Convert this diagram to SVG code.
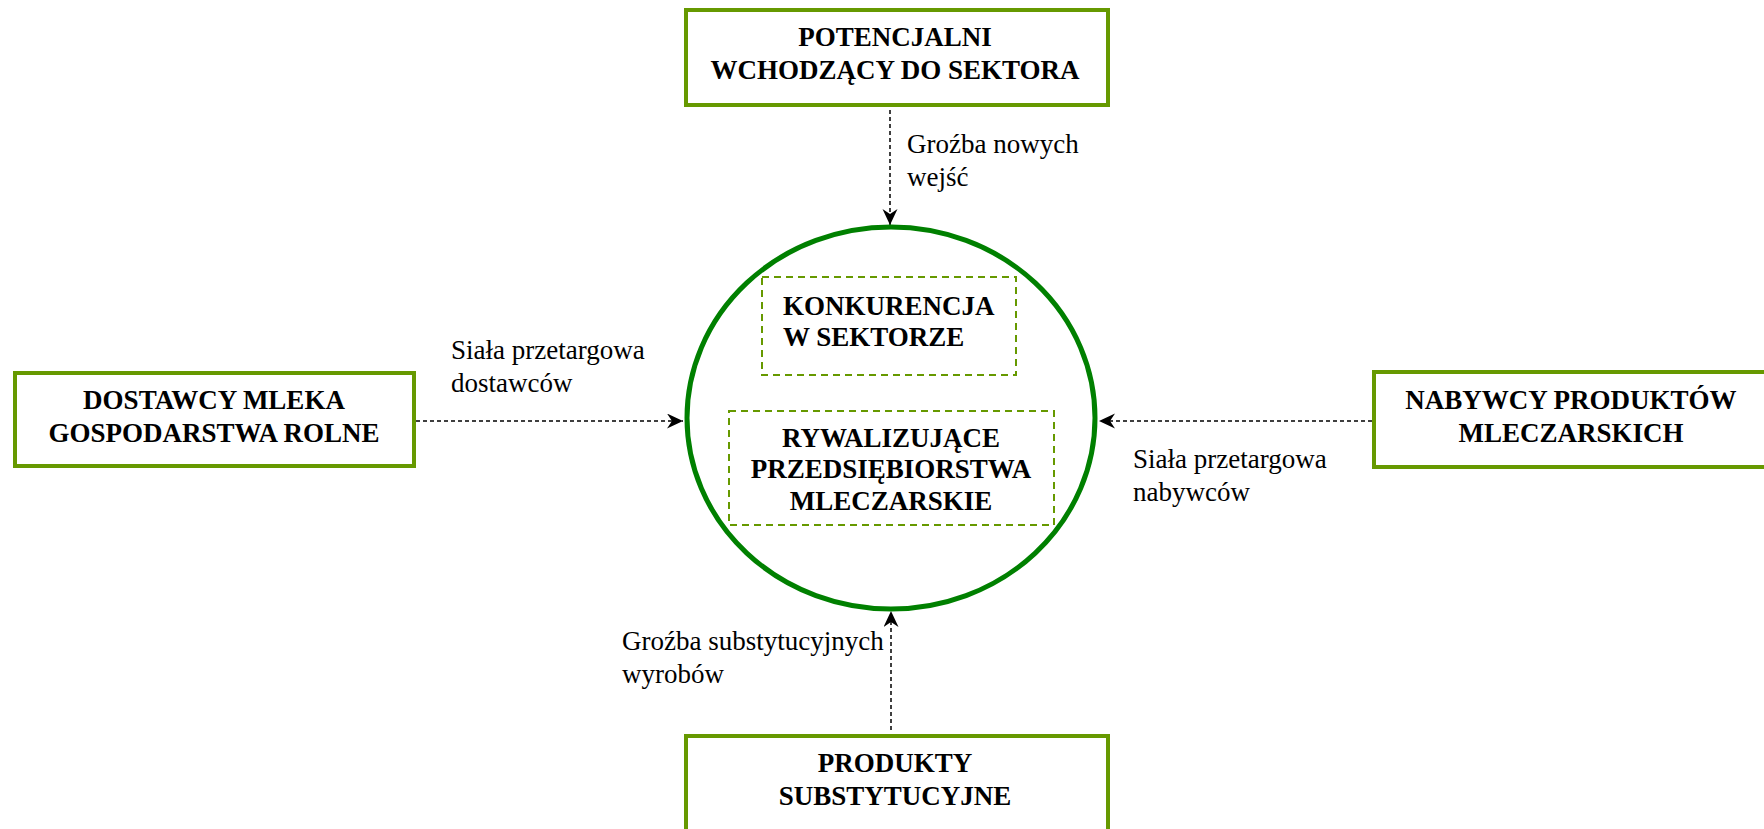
<svg xmlns="http://www.w3.org/2000/svg" width="1764" height="829" viewBox="0 0 1764 829">
<style>
.box{fill:#fff;stroke:#669900;stroke-width:4}
.inner{fill:none;stroke:#669900;stroke-width:2;stroke-dasharray:7 5}
.circle{fill:#fff;stroke:#008000;stroke-width:5}
.conn{stroke:#000;stroke-width:1.5;stroke-dasharray:4 3;fill:none}
.bt{font-family:"Liberation Serif","DejaVu Serif",serif;font-weight:bold;font-size:27px;fill:#000;text-anchor:middle}
.lt{font-family:"Liberation Serif","DejaVu Serif",serif;font-size:27px;fill:#000}
</style>
<defs>
<marker id="arr" markerUnits="userSpaceOnUse" markerWidth="18" markerHeight="16" refX="16" refY="7.5" orient="auto">
<path d="M0,0 L16,7.5 L0,15 L5,7.5 Z" fill="#000"/>
</marker>
</defs>
<rect width="1764" height="829" fill="#fff"/>
<g id="connectors">
<line class="conn" x1="890" y1="110" x2="890" y2="225" marker-end="url(#arr)"/>
<line class="conn" x1="416" y1="421" x2="683" y2="421" marker-end="url(#arr)"/>
<line class="conn" x1="1372" y1="421" x2="1099" y2="421" marker-end="url(#arr)"/>
<line class="conn" x1="891" y1="730" x2="891" y2="611" marker-end="url(#arr)"/>
<text class="lt" x="907" y="153">Groźba nowych</text>
<text class="lt" x="907" y="186">wejść</text>
<text class="lt" x="451" y="359">Siała przetargowa</text>
<text class="lt" x="451" y="392">dostawców</text>
<text class="lt" x="1133" y="468">Siała przetargowa</text>
<text class="lt" x="1133" y="501">nabywców</text>
<text class="lt" x="622" y="650">Groźba substytucyjnych</text>
<text class="lt" x="622" y="683">wyrobów</text>
</g>
<g id="node-center">
<ellipse class="circle" cx="891" cy="418" rx="204" ry="191"/>
</g>
<g id="node-konkurencja">
<rect class="inner" x="762" y="277" width="254" height="98"/>
<text class="bt" x="783" y="315" style="text-anchor:start">KONKURENCJA</text>
<text class="bt" x="783" y="346" style="text-anchor:start">W SEKTORZE</text>
</g>
<g id="node-rywalizujace">
<rect class="inner" x="729" y="411" width="325" height="114"/>
<text class="bt" x="891" y="447">RYWALIZUJĄCE</text>
<text class="bt" x="891" y="478">PRZEDSIĘBIORSTWA</text>
<text class="bt" x="891" y="510">MLECZARSKIE</text>
</g>
<g id="node-potencjalni">
<rect class="box" x="686" y="10" width="422" height="95"/>
<text class="bt" x="895" y="46">POTENCJALNI</text>
<text class="bt" x="895" y="79">WCHODZĄCY DO SEKTORA</text>
</g>
<g id="node-dostawcy">
<rect class="box" x="15" y="373" width="399" height="93"/>
<text class="bt" x="214" y="409">DOSTAWCY MLEKA</text>
<text class="bt" x="214" y="442">GOSPODARSTWA ROLNE</text>
</g>
<g id="node-nabywcy">
<rect class="box" x="1374" y="372" width="420" height="95"/>
<text class="bt" x="1571" y="409">NABYWCY PRODUKTÓW</text>
<text class="bt" x="1571" y="442">MLECZARSKICH</text>
</g>
<g id="node-produkty">
<rect class="box" x="686" y="736" width="422" height="120"/>
<text class="bt" x="895" y="772">PRODUKTY</text>
<text class="bt" x="895" y="805">SUBSTYTUCYJNE</text>
</g>
</svg>
